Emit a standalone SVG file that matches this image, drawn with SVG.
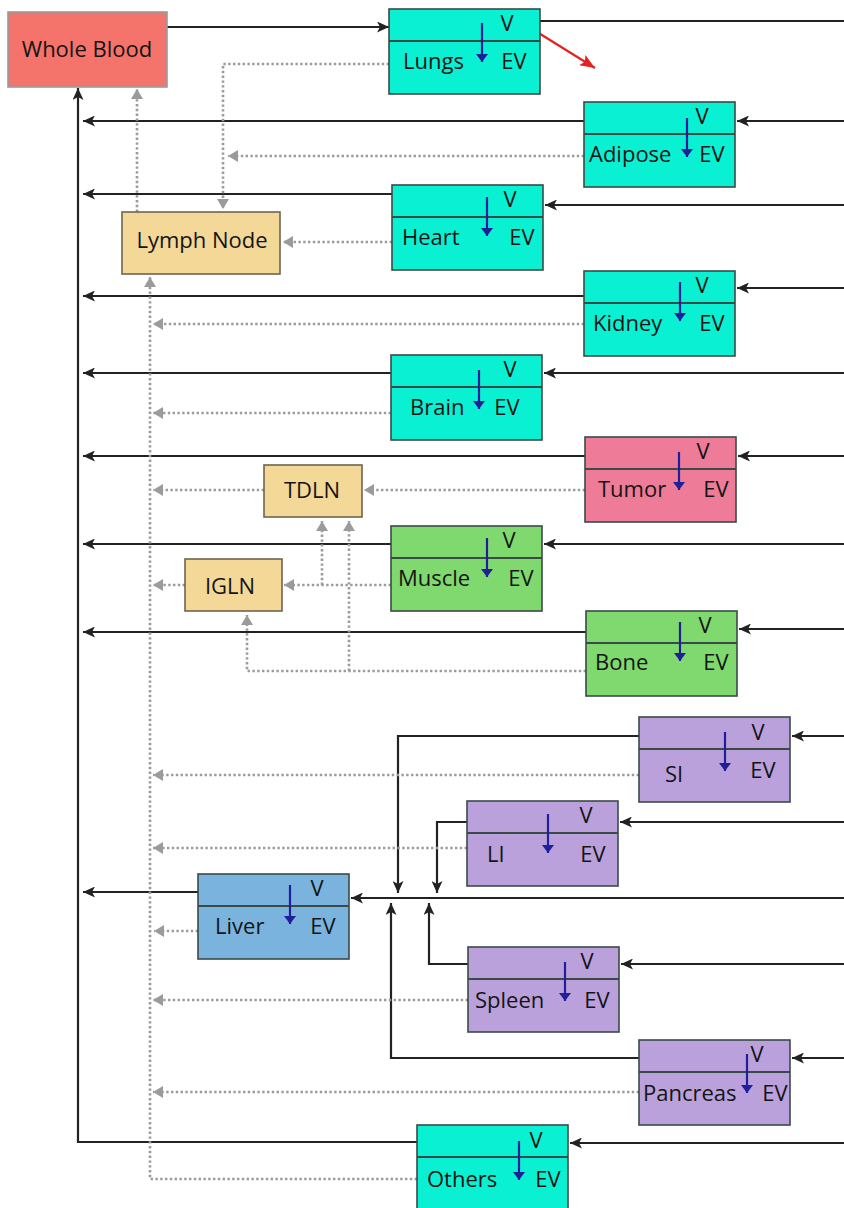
<svg xmlns="http://www.w3.org/2000/svg" width="844" height="1208" viewBox="0 0 844 1208">
<style>
text{font-family:"Open Sans","Liberation Sans",sans-serif;font-size:22px;fill:#141414}
.mid{text-anchor:middle}
.box{stroke:#3a4a47;stroke-width:1.6}
.cy{fill:#0af0d2}.pk{fill:#ee7c98}.gr{fill:#80d96e}.pu{fill:#baa1dc}.lv{fill:#7ab4de}
.ln{fill:#f3d898;stroke:#6e6450;stroke-width:1.6}
.wb{fill:#f4736b;stroke:#9a9a9a;stroke-width:1.6}
.div{stroke:#3a4a47;stroke-width:2}
.ba{stroke:#1f1f9a;stroke-width:2.2;fill:none}
.s{fill:none;stroke:#222;stroke-width:2.2}
.d{fill:none;stroke:#9b9b9b;stroke-width:2.6;stroke-dasharray:2.4 2.4}
</style>
<defs>
<marker id="ak" markerUnits="userSpaceOnUse" viewBox="0 0 12 11" markerWidth="12" markerHeight="11" refX="12" refY="5.5" orient="auto"><path d="M0,0 L12,5.5 L0,11 L3,5.5 z" fill="#222"/></marker>
<marker id="ag" markerUnits="userSpaceOnUse" viewBox="0 0 10 12" markerWidth="10" markerHeight="12" refX="10" refY="6" orient="auto"><path d="M0,0 L10,6 L0,12 z" fill="#9b9b9b"/></marker>
<marker id="ar" markerUnits="userSpaceOnUse" viewBox="0 0 15 12" markerWidth="15" markerHeight="12" refX="15" refY="6" orient="auto"><path d="M0,0 L15,6 L0,12 L3,6 z" fill="#e52222"/></marker>
<marker id="ab" markerUnits="userSpaceOnUse" viewBox="0 0 8 12" markerWidth="8" markerHeight="12" refX="8" refY="6" orient="auto"><path d="M0,0 L8,6 L0,12 z" fill="#1f1f9a"/></marker>
</defs>

<g id="connectors">
<path class="s" d="M167,27 H389" marker-end="url(#ak)"/>
<path class="s" d="M540,21 H844"/>
<path d="M529,27 L595,68" stroke="#e52222" stroke-width="2.2" fill="none" marker-end="url(#ar)"/>
<path class="s" d="M844,121 H737" marker-end="url(#ak)"/>
<path class="s" d="M584,121 H83" marker-end="url(#ak)"/>
<path class="s" d="M844,205 H545" marker-end="url(#ak)"/>
<path class="s" d="M392,194 H83" marker-end="url(#ak)"/>
<path class="s" d="M844,288 H737" marker-end="url(#ak)"/>
<path class="s" d="M584,296 H83" marker-end="url(#ak)"/>
<path class="s" d="M844,373 H544" marker-end="url(#ak)"/>
<path class="s" d="M391,373 H83" marker-end="url(#ak)"/>
<path class="s" d="M844,456 H738" marker-end="url(#ak)"/>
<path class="s" d="M585,456 H83" marker-end="url(#ak)"/>
<path class="s" d="M844,544 H544" marker-end="url(#ak)"/>
<path class="s" d="M391,544 H83" marker-end="url(#ak)"/>
<path class="s" d="M844,629 H739" marker-end="url(#ak)"/>
<path class="s" d="M586,632 H83" marker-end="url(#ak)"/>
<path class="s" d="M844,736 H792" marker-end="url(#ak)"/>
<path class="s" d="M639,736 H398 V893" marker-end="url(#ak)"/>
<path class="s" d="M844,822 H620" marker-end="url(#ak)"/>
<path class="s" d="M467,822 H437 V893" marker-end="url(#ak)"/>
<path class="s" d="M844,898 H351" marker-end="url(#ak)"/>
<path class="s" d="M198,892 H83" marker-end="url(#ak)"/>
<path class="s" d="M844,964 H621" marker-end="url(#ak)"/>
<path class="s" d="M468,964 H429 V903" marker-end="url(#ak)"/>
<path class="s" d="M844,1058 H792" marker-end="url(#ak)"/>
<path class="s" d="M639,1058 H391 V903" marker-end="url(#ak)"/>
<path class="s" d="M844,1143 H570" marker-end="url(#ak)"/>
<path class="s" d="M417,1142 H78 V88" marker-end="url(#ak)"/>
<path class="d" d="M389,64 H223 V209" marker-end="url(#ag)"/>
<path class="d" d="M137,212 V89" marker-end="url(#ag)"/>
<path class="d" d="M584,156 H228" marker-end="url(#ag)"/>
<path class="d" d="M392,242 H283" marker-end="url(#ag)"/>
<path class="d" d="M417,1179 H150 V277" marker-end="url(#ag)"/>
<path class="d" d="M584,324 H153" marker-end="url(#ag)"/>
<path class="d" d="M391,413 H153" marker-end="url(#ag)"/>
<path class="d" d="M585,490 H364" marker-end="url(#ag)"/>
<path class="d" d="M264,490 H153" marker-end="url(#ag)"/>
<path class="d" d="M391,585 H284" marker-end="url(#ag)"/>
<path class="d" d="M322,585 V521" marker-end="url(#ag)"/>
<path class="d" d="M185,585 H153" marker-end="url(#ag)"/>
<path class="d" d="M586,671 H247 V615" marker-end="url(#ag)"/>
<path class="d" d="M349,671 V521" marker-end="url(#ag)"/>
<path class="d" d="M639,775 H153" marker-end="url(#ag)"/>
<path class="d" d="M467,848 H153" marker-end="url(#ag)"/>
<path class="d" d="M198,931 H154" marker-end="url(#ag)"/>
<path class="d" d="M468,1000 H153" marker-end="url(#ag)"/>
<path class="d" d="M639,1092 H153" marker-end="url(#ag)"/>
</g>

<g id="whole-blood"><rect class="wb" x="8" y="12" width="159" height="75"/><text class="mid" x="87" y="57">Whole Blood</text></g>
<g id="lymph-node"><rect class="ln" x="122" y="212" width="158" height="62"/><text class="mid" x="202" y="248">Lymph Node</text></g>
<g id="tdln"><rect class="ln" x="264" y="465" width="98" height="52"/><text class="mid" x="312" y="498">TDLN</text></g>
<g id="igln"><rect class="ln" x="185" y="559" width="97" height="52"/><text class="mid" x="230" y="594">IGLN</text></g>

<g id="lungs"><rect class="box cy" x="389" y="9" width="151" height="85"/><line class="div" x1="389" y1="41" x2="540" y2="41"/><path class="ba" d="M482,23 V62" marker-end="url(#ab)"/><text x="403" y="69">Lungs</text><text class="mid" x="507" y="31">V</text><text class="mid" x="514" y="69">EV</text></g>
<g id="adipose"><rect class="box cy" x="584" y="102" width="151" height="85"/><line class="div" x1="584" y1="134" x2="735" y2="134"/><path class="ba" d="M687,118 V157" marker-end="url(#ab)"/><text x="589" y="162">Adipose</text><text class="mid" x="702" y="124">V</text><text class="mid" x="712" y="162">EV</text></g>
<g id="heart"><rect class="box cy" x="392" y="185" width="151" height="85"/><line class="div" x1="392" y1="217" x2="543" y2="217"/><path class="ba" d="M487,197 V236" marker-end="url(#ab)"/><text x="402" y="245">Heart</text><text class="mid" x="510" y="207">V</text><text class="mid" x="522" y="245">EV</text></g>
<g id="kidney"><rect class="box cy" x="584" y="271" width="151" height="85"/><line class="div" x1="584" y1="303" x2="735" y2="303"/><path class="ba" d="M680,282 V321" marker-end="url(#ab)"/><text x="593" y="331">Kidney</text><text class="mid" x="702" y="293">V</text><text class="mid" x="712" y="331">EV</text></g>
<g id="brain"><rect class="box cy" x="391" y="355" width="151" height="85"/><line class="div" x1="391" y1="387" x2="542" y2="387"/><path class="ba" d="M479,370 V409" marker-end="url(#ab)"/><text x="410" y="415">Brain</text><text class="mid" x="510" y="377">V</text><text class="mid" x="507" y="415">EV</text></g>
<g id="tumor"><rect class="box pk" x="585" y="437" width="151" height="85"/><line class="div" x1="585" y1="469" x2="736" y2="469"/><path class="ba" d="M679,452 V490" marker-end="url(#ab)"/><text x="598" y="497">Tumor</text><text class="mid" x="703" y="459">V</text><text class="mid" x="716" y="497">EV</text></g>
<g id="muscle"><rect class="box gr" x="391" y="526" width="151" height="85"/><line class="div" x1="391" y1="558" x2="542" y2="558"/><path class="ba" d="M487,538 V577" marker-end="url(#ab)"/><text x="398" y="586">Muscle</text><text class="mid" x="509" y="548">V</text><text class="mid" x="521" y="586">EV</text></g>
<g id="bone"><rect class="box gr" x="586" y="611" width="151" height="85"/><line class="div" x1="586" y1="643" x2="737" y2="643"/><path class="ba" d="M680,622 V661" marker-end="url(#ab)"/><text x="595" y="670">Bone</text><text class="mid" x="705" y="633">V</text><text class="mid" x="716" y="670">EV</text></g>
<g id="si"><rect class="box pu" x="639" y="717" width="151" height="85"/><line class="div" x1="639" y1="749" x2="790" y2="749"/><path class="ba" d="M725,732 V771" marker-end="url(#ab)"/><text x="665" y="782">SI</text><text class="mid" x="758" y="740">V</text><text class="mid" x="763" y="778">EV</text></g>
<g id="li"><rect class="box pu" x="467" y="801" width="151" height="85"/><line class="div" x1="467" y1="833" x2="618" y2="833"/><path class="ba" d="M548,814 V853" marker-end="url(#ab)"/><text x="487" y="862">LI</text><text class="mid" x="586" y="823">V</text><text class="mid" x="593" y="862">EV</text></g>
<g id="liver"><rect class="box lv" x="198" y="874" width="151" height="85"/><line class="div" x1="198" y1="906" x2="349" y2="906"/><path class="ba" d="M290,885 V924" marker-end="url(#ab)"/><text x="215" y="934">Liver</text><text class="mid" x="317" y="896">V</text><text class="mid" x="323" y="934">EV</text></g>
<g id="spleen"><rect class="box pu" x="468" y="947" width="151" height="85"/><line class="div" x1="468" y1="979" x2="619" y2="979"/><path class="ba" d="M565,962 V1001" marker-end="url(#ab)"/><text x="475" y="1008">Spleen</text><text class="mid" x="587" y="969">V</text><text class="mid" x="597" y="1008">EV</text></g>
<g id="pancreas"><rect class="box pu" x="639" y="1040" width="151" height="85"/><line class="div" x1="639" y1="1072" x2="790" y2="1072"/><path class="ba" d="M747,1054 V1093" marker-end="url(#ab)"/><text x="643" y="1101">Pancreas</text><text class="mid" x="757" y="1062">V</text><text class="mid" x="775" y="1101">EV</text></g>
<g id="others"><rect class="box cy" x="417" y="1125" width="151" height="90"/><line class="div" x1="417" y1="1157" x2="568" y2="1157"/><path class="ba" d="M519,1141 V1180" marker-end="url(#ab)"/><text x="427" y="1187">Others</text><text class="mid" x="536" y="1148">V</text><text class="mid" x="548" y="1187">EV</text></g>
</svg>
